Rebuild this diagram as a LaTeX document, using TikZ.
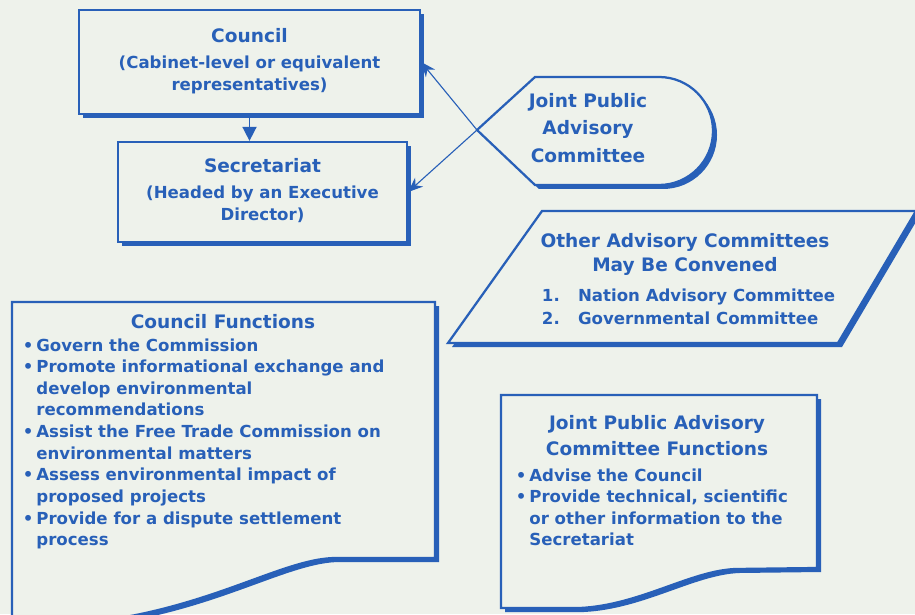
\documentclass[tikz,border=0pt]{standalone}
\usepackage{fontspec}
\setmainfont{DejaVu Sans}
\usetikzlibrary{arrows.meta,shadows}

\definecolor{ink}{RGB}{40,96,184}
\definecolor{paper}{RGB}{238,242,235}

\newcommand{\headfont}{\fontsize{13.2}{17}\selectfont\bfseries}
\newcommand{\bodyfont}{\fontsize{11.8}{15.4}\selectfont\bfseries}

\tikzset{
  box/.style={draw=ink, fill=paper, line width=1.6pt,
    drop shadow={shadow xshift=.1cm, shadow yshift=-.1cm, fill=ink, opacity=1}},
  every node/.style={text=ink, font=\bodyfont},
}

\begin{document}
\begin{tikzpicture}[>={Stealth[length=10.5pt,width=8.5pt]}]
  \path[use as bounding box, fill=paper] (0,0) rectangle (22.875,15.35);
  \clip (0,0) rectangle (22.875,15.35);

  \node[box, minimum width=8.525cm, minimum height=2.6cm] (CO) at (6.2375,13.8) {%
    \begin{tabular}{@{}c@{}}
      {\headfont Council}\\[3pt]
      (Cabinet-level or equivalent\\
      representatives)
    \end{tabular}};
  \node[box, minimum width=7.225cm, minimum height=2.5cm] (SE) at (6.5625,10.55) {%
    \begin{tabular}{@{}c@{}}
      {\headfont Secretariat}\\[3pt]
      (Headed by an Executive\\
      Director)
    \end{tabular}};

  % joint public advisory committee
  \draw[box] (11.925,12.1) coordinate (tip) -- (13.375,13.425) -- (16.475,13.425)
    arc[start angle=90, end angle=-90, radius=1.35] -- (13.375,10.725) -- cycle;
  \node[font=\headfont] (JP) at (14.7,12.1) {%
    \begin{tabular}{@{}c@{}}
      Joint Public\\[2.5pt]
      Advisory\\[2.5pt]
      Committee
    \end{tabular}};

  \draw[line width=.8pt, draw=ink, ->] (tip) -- (CO.east);
  \draw[line width=.8pt, draw=ink, ->] (tip) -- (SE.east);
  \draw[line width=1.2pt, draw=ink, -{Triangle[length=10pt,width=10pt]}]
    (CO.south) -- (CO.south |- SE.north);

  % other committees
  \draw[box] (13.55,10.075) -- (22.9,10.075) -- (20.95,6.775) -- (11.2,6.775) -- cycle;
  \node[font=\headfont] (OA) at (17.125,8.99) {%
    \begin{tabular}{@{}c@{}}
      Other Advisory Committees\\
      May Be Convened
    \end{tabular}};
  \node[anchor=base west] (OL) at (13.425,7.825) {%
    \begin{tabular}[t]{@{}l@{\hspace{1.1em}}l@{}}
      1. & Nation Advisory Committee\\[1pt]
      2. & Governmental Committee
    \end{tabular}};

  % council functions
  \draw[box] (0.3,7.8) -- (10.875,7.8) -- (10.875,1.4) -- (8.4,1.4)
    .. controls (7.2,1.4) and (5.6,0.35) .. (3.0,-0.1) -- (0.3,-0.4) -- cycle;
  \node[font=\headfont] (CF) at (5.575,7.3) {Council Functions};
  \node[anchor=base west] (CFL) at (0.45,6.575) {%
    \begin{tabular}[t]{@{}l@{\hspace{2pt}}l@{}}
      \textbullet & Govern the Commission\\
      \textbullet & Promote informational exchange and\\
                  & develop environmental\\
                  & recommendations\\
      \textbullet & Assist the Free Trade Commission on\\
                  & environmental matters\\
      \textbullet & Assess environmental impact of\\
                  & proposed projects\\
      \textbullet & Provide for a dispute settlement\\
                  & process
    \end{tabular}};

  % joint public advisory committee functions
  \draw[box] (12.525,5.475) -- (20.425,5.475) -- (20.425,1.15) -- (18.375,1.125)
    .. controls (17.25,1.075) and (16.0,0.225) .. (14.5,0.15) -- (12.525,0.15) -- cycle;
  \node[font=\headfont] (JF) at (16.425,4.4) {%
    \begin{tabular}{@{}c@{}}
      Joint Public Advisory\\[1.5pt]
      Committee Functions
    \end{tabular}};
  \node[anchor=base west] (JFL) at (12.775,3.325) {%
    \begin{tabular}[t]{@{}l@{\hspace{2pt}}l@{}}
      \textbullet & Advise the Council\\
      \textbullet & Provide technical, scientific\\
                  & or other information to the\\
                  & Secretariat
    \end{tabular}};
\end{tikzpicture}
\end{document}
